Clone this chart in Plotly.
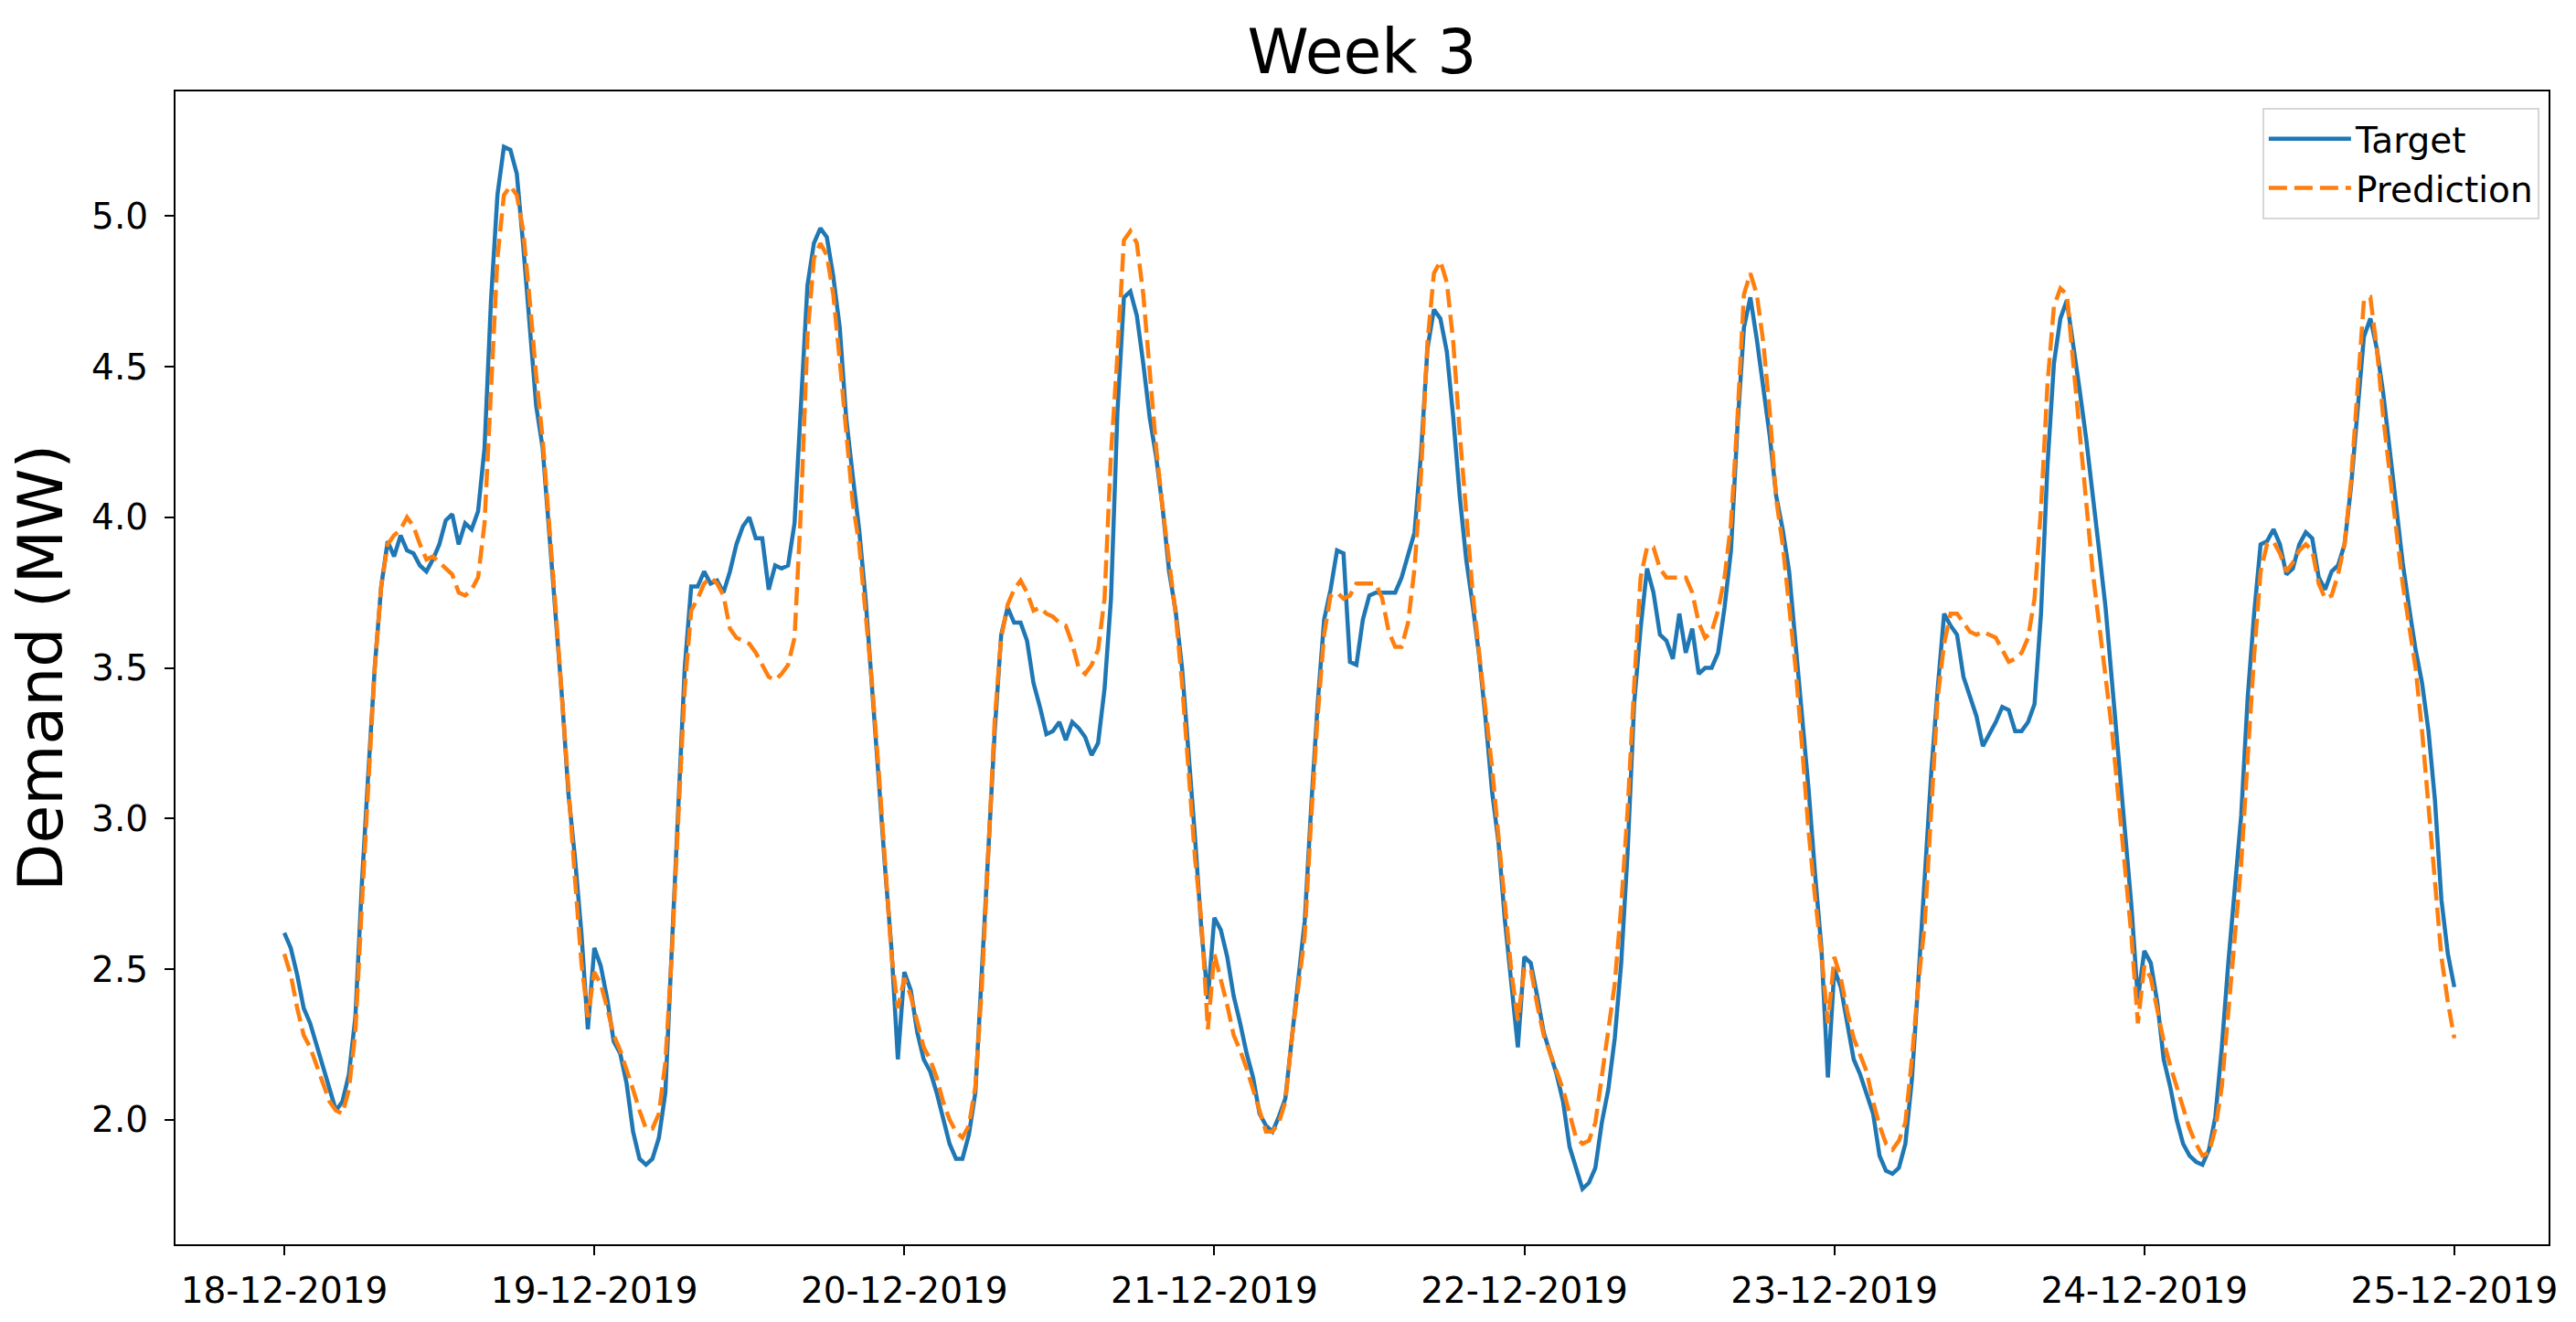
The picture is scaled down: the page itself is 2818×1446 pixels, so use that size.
import pandas as pd
import plotly.graph_objects as go

# ---------------- data (half-hourly) ----------------
start = "2019-12-18 00:00"
n_points = 337

target = [
    2.62, 2.57, 2.48, 2.37, 2.32, 2.25, 2.18, 2.10, 2.03, 2.06, 2.15, 2.34, 2.78, 3.15, 3.50, 3.77,
    3.92, 3.87, 3.94, 3.89, 3.88, 3.84, 3.82, 3.86, 3.91, 3.99, 4.01, 3.91, 3.98, 3.96, 4.02, 4.23,
    4.72, 5.07, 5.23, 5.22, 5.14, 4.90, 4.63, 4.37, 4.23, 3.96, 3.66, 3.40, 3.08, 2.87, 2.62, 2.30,
    2.57, 2.51, 2.40, 2.26, 2.22, 2.12, 1.96, 1.87, 1.85, 1.87, 1.94, 2.09, 2.57, 3.06, 3.50, 3.77,
    3.77, 3.82, 3.78, 3.79, 3.75, 3.82, 3.91, 3.97, 4.00, 3.93, 3.93, 3.76, 3.84, 3.83, 3.84, 3.98,
    4.35, 4.77, 4.91, 4.96, 4.93, 4.80, 4.63, 4.33, 4.14, 3.96, 3.73, 3.45, 3.14, 2.84, 2.57, 2.20,
    2.49, 2.43, 2.29, 2.20, 2.16, 2.09, 2.00, 1.92, 1.87, 1.87, 1.95, 2.09, 2.49, 2.89, 3.29, 3.61,
    3.70, 3.65, 3.65, 3.59, 3.45, 3.37, 3.28, 3.29, 3.32, 3.26, 3.32, 3.30, 3.27, 3.21, 3.25, 3.43,
    3.73, 4.35, 4.73, 4.75, 4.67, 4.51, 4.33, 4.20, 4.03, 3.82, 3.69, 3.50, 3.24, 2.94, 2.63, 2.40,
    2.67, 2.63, 2.54, 2.41, 2.32, 2.22, 2.14, 2.02, 1.98, 1.96, 2.01, 2.07, 2.27, 2.46, 2.66, 3.04,
    3.38, 3.66, 3.76, 3.89, 3.88, 3.52, 3.51, 3.66, 3.74, 3.75, 3.75, 3.75, 3.75, 3.80, 3.87, 3.95,
    4.21, 4.56, 4.69, 4.66, 4.55, 4.33, 4.07, 3.86, 3.71, 3.54, 3.33, 3.09, 2.92, 2.66, 2.45, 2.24,
    2.54, 2.52, 2.41, 2.29, 2.22, 2.15, 2.06, 1.91, 1.84, 1.77, 1.79, 1.84, 1.99, 2.10, 2.27, 2.52,
    2.89, 3.38, 3.63, 3.83, 3.75, 3.61, 3.59, 3.53, 3.68, 3.55, 3.63, 3.48, 3.50, 3.50, 3.55, 3.70,
    3.89, 4.30, 4.63, 4.73, 4.59, 4.44, 4.27, 4.07, 3.96, 3.82, 3.58, 3.37, 3.10, 2.82, 2.57, 2.14,
    2.50, 2.44, 2.32, 2.20, 2.15, 2.09, 2.02, 1.88, 1.83, 1.82, 1.84, 1.92, 2.13, 2.46, 2.80, 3.15,
    3.43, 3.68, 3.64, 3.61, 3.47, 3.41, 3.34, 3.24, 3.28, 3.32, 3.37, 3.36, 3.29, 3.29, 3.32, 3.38,
    3.68, 4.17, 4.51, 4.66, 4.72, 4.58, 4.42, 4.26, 4.06, 3.89, 3.70, 3.45, 3.21, 2.99, 2.71, 2.40,
    2.56, 2.52, 2.39, 2.20, 2.11, 2.00, 1.92, 1.88, 1.86, 1.85, 1.90, 2.01, 2.24, 2.52, 2.77, 3.01,
    3.40, 3.68, 3.91, 3.92, 3.96, 3.91, 3.81, 3.83, 3.91, 3.95, 3.93, 3.80, 3.76, 3.82, 3.84, 3.91,
    4.10, 4.37, 4.60, 4.66, 4.56, 4.41, 4.23, 4.03, 3.85, 3.70, 3.56, 3.45, 3.29, 3.06, 2.73, 2.55,
    2.44,
]

prediction = [
    2.55, 2.48, 2.37, 2.28, 2.24, 2.18, 2.11, 2.06, 2.03, 2.02, 2.10, 2.29, 2.71, 3.10, 3.50, 3.77,
    3.91, 3.94, 3.96, 4.00, 3.97, 3.91, 3.86, 3.87, 3.85, 3.83, 3.81, 3.75, 3.74, 3.76, 3.80, 3.98,
    4.40, 4.86, 5.07, 5.10, 5.07, 4.95, 4.72, 4.47, 4.26, 4.00, 3.70, 3.40, 3.08, 2.80, 2.52, 2.34,
    2.49, 2.45, 2.37, 2.28, 2.23, 2.17, 2.10, 2.03, 1.97, 1.97, 2.02, 2.19, 2.55, 3.00, 3.43, 3.69,
    3.73, 3.78, 3.80, 3.78, 3.74, 3.63, 3.60, 3.59, 3.58, 3.55, 3.51, 3.47, 3.46, 3.48, 3.51, 3.60,
    4.03, 4.60, 4.86, 4.91, 4.87, 4.74, 4.52, 4.30, 4.05, 3.91, 3.68, 3.45, 3.17, 2.84, 2.55, 2.37,
    2.47, 2.41, 2.32, 2.24, 2.20, 2.14, 2.06, 2.00, 1.96, 1.94, 1.98, 2.11, 2.44, 2.90, 3.33, 3.60,
    3.71, 3.76, 3.79, 3.75, 3.69, 3.70, 3.68, 3.67, 3.65, 3.64, 3.58, 3.50, 3.48, 3.51, 3.56, 3.73,
    4.21, 4.54, 4.92, 4.95, 4.91, 4.74, 4.50, 4.23, 4.03, 3.86, 3.68, 3.45, 3.18, 2.87, 2.66, 2.30,
    2.55, 2.47, 2.38, 2.28, 2.23, 2.17, 2.10, 2.02, 1.96, 1.96, 1.99, 2.06, 2.27, 2.44, 2.61, 3.00,
    3.34, 3.61, 3.74, 3.75, 3.73, 3.74, 3.78, 3.78, 3.78, 3.78, 3.73, 3.62, 3.57, 3.57, 3.65, 3.83,
    4.14, 4.58, 4.81, 4.85, 4.78, 4.58, 4.28, 4.00, 3.75, 3.55, 3.36, 3.17, 2.94, 2.71, 2.49, 2.33,
    2.50, 2.50, 2.38, 2.28, 2.22, 2.17, 2.10, 2.02, 1.94, 1.92, 1.93, 1.99, 2.14, 2.29, 2.45, 2.71,
    3.03, 3.44, 3.80, 3.90, 3.90, 3.83, 3.80, 3.80, 3.80, 3.80, 3.75, 3.65, 3.60, 3.62, 3.69, 3.80,
    3.98, 4.33, 4.74, 4.81, 4.74, 4.58, 4.35, 4.06, 3.91, 3.71, 3.50, 3.24, 2.96, 2.74, 2.55, 2.32,
    2.54, 2.47, 2.36, 2.27, 2.21, 2.16, 2.06, 1.98, 1.92, 1.90, 1.93, 1.99, 2.20, 2.45, 2.65, 3.01,
    3.40, 3.58, 3.68, 3.68, 3.65, 3.62, 3.61, 3.62, 3.61, 3.60, 3.56, 3.52, 3.53, 3.55, 3.60, 3.73,
    4.03, 4.44, 4.70, 4.76, 4.74, 4.52, 4.28, 4.05, 3.82, 3.63, 3.47, 3.29, 3.07, 2.84, 2.61, 2.32,
    2.51, 2.47, 2.37, 2.26, 2.18, 2.11, 2.03, 1.97, 1.92, 1.88, 1.89, 1.97, 2.11, 2.36, 2.58, 2.85,
    3.20, 3.54, 3.82, 3.91, 3.92, 3.88, 3.82, 3.85, 3.89, 3.91, 3.89, 3.78, 3.73, 3.74, 3.81, 3.91,
    4.12, 4.44, 4.72, 4.73, 4.56, 4.33, 4.13, 3.96, 3.78, 3.63, 3.50, 3.29, 3.03, 2.78, 2.54, 2.39,
    2.27,
]

tick_dates = ["2019-12-18", "2019-12-19", "2019-12-20", "2019-12-21",
              "2019-12-22", "2019-12-23", "2019-12-24", "2019-12-25"]
tick_labels = ["18-12-2019", "19-12-2019", "20-12-2019", "21-12-2019",
               "22-12-2019", "23-12-2019", "24-12-2019", "25-12-2019"]
y_ticks = [2.0, 2.5, 3.0, 3.5, 4.0, 4.5, 5.0]

# ---------------- figure ----------------
times = pd.date_range(start, periods=n_points, freq="30min")
t0 = pd.Timestamp(start)
x_range = [t0 - pd.Timedelta(days=0.351), t0 + pd.Timedelta(days=7.304)]

FONT = "DejaVu Sans"
BLUE = "#1f77b4"
ORANGE = "#ff7f0e"

fig = go.Figure()
fig.add_trace(go.Scatter(x=times, y=target, mode="lines", name="Target",
                         line=dict(color=BLUE, width=4.5)))
fig.add_trace(go.Scatter(x=times, y=prediction, mode="lines", name="Prediction",
                         line=dict(color=ORANGE, width=4.5, dash="20px,8px")))

fig.update_layout(
    width=2818, height=1446,
    margin=dict(l=192, r=30, t=100, b=80),
    paper_bgcolor="white", plot_bgcolor="white",
    font=dict(family=FONT, color="black", size=39),
    title=dict(text="Week 3", x=0.5, xref="paper", xanchor="center",
               y=1 - 56 / 1446, yref="container", yanchor="middle",
               font=dict(family=FONT, size=68, color="black")),
    legend=dict(x=0.9961, y=0.9858, xanchor="right", yanchor="top",
                bgcolor="white", bordercolor="#d6d6d6", borderwidth=2,
                font=dict(family=FONT, size=39, color="black"),
                itemwidth=90, tracegroupgap=0),
    showlegend=True,
)

fig.update_xaxes(
    type="date", range=x_range,
    tickmode="array", tickvals=tick_dates, ticktext=tick_labels,
    ticks="outside", ticklen=10, tickwidth=2.2, tickcolor="black",
    showline=True, mirror=True, linecolor="black", linewidth=2.2,
    showgrid=False, zeroline=False,
    tickfont=dict(family=FONT, size=39, color="black"),
    ticklabelstandoff=5,
)
fig.update_yaxes(
    range=[1.586, 5.414],
    tickmode="array", tickvals=y_ticks, ticktext=[f"{v:.1f}" for v in y_ticks],
    ticks="outside", ticklen=10, tickwidth=2.2, tickcolor="black",
    showline=True, mirror=True, linecolor="black", linewidth=2.2,
    showgrid=False, zeroline=False,
    tickfont=dict(family=FONT, size=39, color="black"),
    ticklabelstandoff=10,
    title=dict(text="Demand (MW)", standoff=9,
               font=dict(family=FONT, size=68, color="black")),
)

fig.write_html(
    "out.html",
    config={"displayModeBar": False},
    post_script="document.body.style.margin='0';document.body.style.overflow='hidden';",
)
